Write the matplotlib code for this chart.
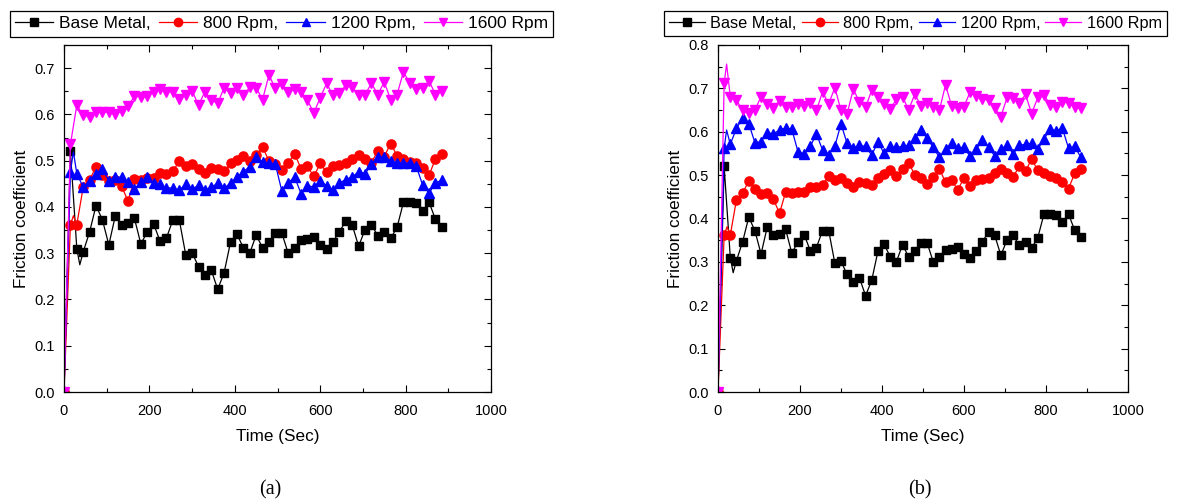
import numpy as np
import matplotlib
matplotlib.use("Agg")
import matplotlib.pyplot as plt
from matplotlib.ticker import MultipleLocator, FormatStrFormatter

plt.rcParams['font.family'] = ['Liberation Sans', 'DejaVu Sans']

# ---------------- data ----------------
time = list(range(0, 886, 15))  # 0 ... 885 s

base_metal = [0.0, 0.520, 0.310, 0.303, 0.346, 0.403, 0.372, 0.318, 0.380, 0.362,
              0.365, 0.375, 0.320, 0.346, 0.363, 0.326, 0.333, 0.372, 0.372, 0.297,
              0.301, 0.271, 0.253, 0.263, 0.222, 0.258, 0.324, 0.341, 0.312, 0.300,
              0.339, 0.312, 0.325, 0.344, 0.344, 0.300, 0.312, 0.328, 0.330, 0.334,
              0.318, 0.310, 0.325, 0.346, 0.370, 0.361, 0.315, 0.351, 0.361, 0.338,
              0.345, 0.332, 0.356, 0.410, 0.410, 0.408, 0.392, 0.410, 0.373, 0.357]

rpm800 = [0.0, 0.361, 0.362, 0.443, 0.458, 0.487, 0.468, 0.457, 0.459, 0.445,
          0.412, 0.461, 0.458, 0.462, 0.462, 0.473, 0.472, 0.477, 0.499, 0.488,
          0.493, 0.481, 0.473, 0.484, 0.482, 0.477, 0.494, 0.502, 0.511, 0.499,
          0.513, 0.529, 0.500, 0.493, 0.479, 0.495, 0.515, 0.483, 0.488, 0.466,
          0.494, 0.475, 0.489, 0.491, 0.494, 0.504, 0.513, 0.504, 0.496, 0.521,
          0.509, 0.537, 0.511, 0.504, 0.498, 0.494, 0.484, 0.469, 0.504, 0.514]

rpm1200_a = [0.0, 0.476, 0.472, 0.443, 0.456, 0.472, 0.483, 0.456, 0.465, 0.464,
             0.453, 0.438, 0.454, 0.464, 0.452, 0.449, 0.441, 0.441, 0.436, 0.449,
             0.438, 0.447, 0.436, 0.443, 0.451, 0.440, 0.452, 0.464, 0.476, 0.487,
             0.508, 0.497, 0.494, 0.492, 0.435, 0.452, 0.465, 0.429, 0.446, 0.443,
             0.456, 0.446, 0.436, 0.452, 0.459, 0.465, 0.476, 0.472, 0.492, 0.507,
             0.508, 0.500, 0.495, 0.495, 0.495, 0.488, 0.447, 0.430, 0.452, 0.458]

rpm1600_a = [0.0, 0.535, 0.620, 0.598, 0.595, 0.605, 0.605, 0.605, 0.600, 0.608,
             0.618, 0.639, 0.638, 0.639, 0.649, 0.654, 0.649, 0.649, 0.634, 0.641,
             0.651, 0.620, 0.649, 0.631, 0.624, 0.658, 0.646, 0.658, 0.641, 0.659,
             0.658, 0.632, 0.685, 0.656, 0.665, 0.649, 0.654, 0.649, 0.631, 0.603,
             0.636, 0.667, 0.641, 0.646, 0.663, 0.659, 0.641, 0.643, 0.667, 0.643,
             0.670, 0.632, 0.643, 0.692, 0.667, 0.654, 0.658, 0.672, 0.643, 0.651]

rpm1200_b = [0.0, 0.562, 0.571, 0.608, 0.631, 0.619, 0.575, 0.577, 0.598, 0.595,
             0.604, 0.609, 0.606, 0.554, 0.549, 0.566, 0.595, 0.558, 0.546, 0.567,
             0.618, 0.573, 0.562, 0.569, 0.566, 0.546, 0.577, 0.550, 0.566, 0.564,
             0.566, 0.569, 0.585, 0.604, 0.585, 0.564, 0.541, 0.560, 0.575, 0.562,
             0.564, 0.543, 0.560, 0.581, 0.564, 0.544, 0.560, 0.569, 0.549, 0.569,
             0.571, 0.573, 0.560, 0.583, 0.606, 0.602, 0.608, 0.562, 0.566, 0.541]

rpm1600_b = [0.0, 0.712, 0.681, 0.673, 0.649, 0.644, 0.650, 0.681, 0.664, 0.654,
             0.672, 0.658, 0.658, 0.664, 0.659, 0.666, 0.649, 0.692, 0.664, 0.702,
             0.649, 0.642, 0.698, 0.669, 0.656, 0.696, 0.679, 0.664, 0.652, 0.675,
             0.681, 0.650, 0.687, 0.660, 0.667, 0.658, 0.650, 0.708, 0.659, 0.654,
             0.658, 0.692, 0.682, 0.675, 0.673, 0.654, 0.635, 0.679, 0.677, 0.667,
             0.686, 0.642, 0.679, 0.685, 0.662, 0.658, 0.669, 0.667, 0.656, 0.654]

# unmarked intermediate line points (early transient)
base_extra_t, base_extra_v = [37], [0.275]
rpm800_extra_t, rpm800_extra_v = [22], [0.381]
rpm1200_a_extra_t, rpm1200_a_extra_v = [22], [0.519]
rpm1200_b_extra_t, rpm1200_b_extra_v = [21], [0.604]
rpm1600_b_extra_t, rpm1600_b_extra_v = [21], [0.756]

labels = ['Base Metal,', '800 Rpm,', '1200 Rpm,', '1600 Rpm']
colors = ['#000000', '#FF0000', '#0000FF', '#FF00FF']
markers = ['s', 'o', '^', 'v']
msizes = [5.6, 6.6, 7.0, 7.2]


def series(t, v, et=(), ev=()):
    tt = np.concatenate([np.asarray(t, float), np.asarray(et, float)])
    vv = np.concatenate([np.asarray(v, float), np.asarray(ev, float)])
    mask = np.concatenate([np.ones(len(t), bool), np.zeros(len(et), bool)])
    o = np.argsort(tt, kind='stable')
    return tt[o], vv[o], list(mask[o])


W, H = 1191, 503
fig = plt.figure(figsize=(W / 100, H / 100), dpi=100)

panels = [
    dict(rect=[64 / W, 1 - 392 / H, 427 / W, 347 / H], ymax=0.75,
         data=[(base_metal, base_extra_t, base_extra_v),
               (rpm800, rpm800_extra_t, rpm800_extra_v),
               (rpm1200_a, rpm1200_a_extra_t, rpm1200_a_extra_v),
               (rpm1600_a, [], [])],
         cap='(a)', capx=270, leg=(10, 11), lfs=12.5, colsp=0.46),
    dict(rect=[718 / W, 1 - 392 / H, 410 / W, 347 / H], ymax=0.8,
         data=[(base_metal, base_extra_t, base_extra_v),
               (rpm800, rpm800_extra_t, rpm800_extra_v),
               (rpm1200_b, rpm1200_b_extra_t, rpm1200_b_extra_v),
               (rpm1600_b, rpm1600_b_extra_t, rpm1600_b_extra_v)],
         cap='(b)', capx=920, leg=(664, 11), lfs=11.7, colsp=0.32),
]

for p in panels:
    ax = fig.add_axes(p['rect'])
    handles = []
    for i, (vals, et, ev) in enumerate(p['data']):
        tt, vv, mk = series(time, vals, et, ev)
        h, = ax.plot(tt, vv, color=colors[i], lw=0.9, marker=markers[i],
                     ms=msizes[i], markevery=mk, mec=colors[i], mfc=colors[i],
                     label=labels[i])
        handles.append(h)
    ax.set_xlim(0, 1000)
    ax.set_ylim(0, p['ymax'])
    ax.xaxis.set_major_locator(MultipleLocator(200))
    ax.xaxis.set_minor_locator(MultipleLocator(100))
    ax.yaxis.set_major_locator(MultipleLocator(0.1))
    ax.yaxis.set_minor_locator(MultipleLocator(0.05))
    ax.yaxis.set_major_formatter(FormatStrFormatter('%.1f'))
    ax.tick_params(which='both', direction='in', top=True, right=True,
                   labelsize=10.5, width=0.8)
    ax.tick_params(axis='x', pad=8.5)
    ax.tick_params(axis='y', pad=6.5)
    ax.tick_params(which='major', length=5)
    ax.tick_params(which='minor', length=3)
    for s in ax.spines.values():
        s.set_linewidth(0.9)
    ax.set_xlabel('Time (Sec)', fontsize=12.3, labelpad=8)
    ax.set_ylabel('Friction coefficient', fontsize=12.3, labelpad=4)

    lx, ly = p['leg']
    leg = fig.legend(handles=handles, loc='upper left', ncol=4,
                     bbox_to_anchor=(lx / W, 1 - ly / H), bbox_transform=fig.transFigure,
                     fontsize=p['lfs'], frameon=True, fancybox=False, edgecolor='black',
                     handlelength=2.2, handletextpad=0.35, columnspacing=p['colsp'],
                     borderpad=0.3, borderaxespad=0, framealpha=1)
    leg.get_frame().set_linewidth(0.9)
    for lh in leg.legend_handles:
        lh.set_markersize(6)

    fig.text(p['capx'] / W, 1 - 490 / H, p['cap'], ha='center', va='center',
             fontsize=14.5, family=['Liberation Serif', 'DejaVu Serif'])

fig.savefig('out.png', dpi=100)
